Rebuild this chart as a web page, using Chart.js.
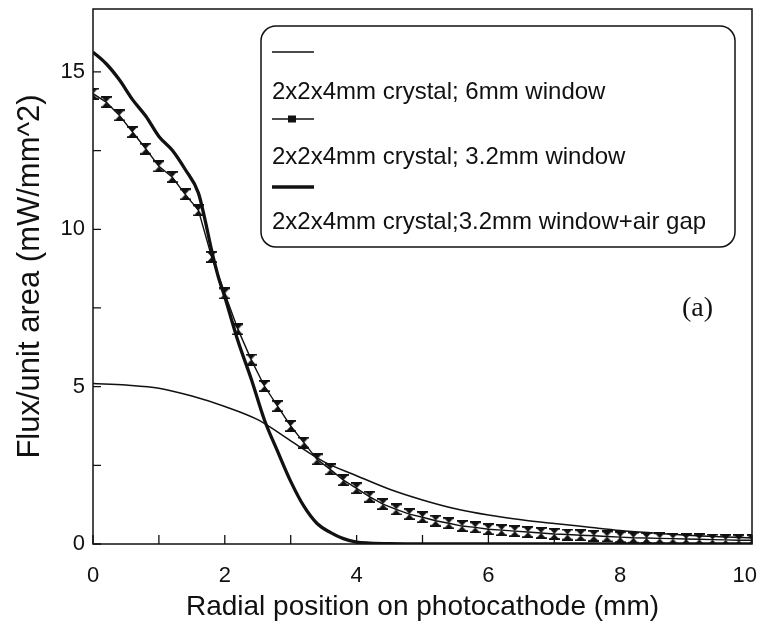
<!DOCTYPE html>
<html><head><meta charset="utf-8">
<script src="https://cdn.jsdelivr.net/npm/chart.js@4/dist/chart.umd.min.js"></script>
<style>html,body{margin:0;padding:0;background:#fff;}canvas{display:block;}</style>
</head><body>
<canvas id="c" width="762" height="632"></canvas>
<script>
const SANS = "'Liberation Sans', Arial, Helvetica, sans-serif";
const SERIF = "'Liberation Serif', 'Times New Roman', serif";

const seriesLabels = [
  '2x2x4mm crystal; 6mm window',
  '2x2x4mm crystal; 3.2mm window',
  '2x2x4mm crystal;3.2mm window+air gap'
];
const xTitle = 'Radial position on photocathode (mm)';
const yTitle = 'Flux/unit area (mW/mm^2)';
const panelLabel = '(a)';
const xTickLabels = [0, 2, 4, 6, 8, 10];
const yTickLabels = [0, 5, 10, 15];

// 6mm window (thin line)
const xThin = [0, 0.5, 1.0, 1.5, 2.0, 2.5, 3.0, 3.5, 4.0, 4.5, 5.0, 5.5, 6.0, 6.5, 7.0, 7.5, 8.0, 8.5, 9.0, 9.5, 10];
const yThin = [5.1, 5.05, 4.95, 4.7, 4.37, 3.95, 3.28, 2.62, 2.17, 1.74, 1.4, 1.12, 0.92, 0.77, 0.65, 0.54, 0.43, 0.35, 0.28, 0.23, 0.19];

// 3.2mm window (line with markers)
const xWin = [0, 0.2, 0.4, 0.6, 0.8, 1.0, 1.2, 1.4, 1.6, 1.8, 2.0, 2.2, 2.4, 2.6, 2.8, 3.0, 3.2, 3.4, 3.6, 3.8,
  4.0, 4.2, 4.4, 4.6, 4.8, 5.0, 5.2, 5.4, 5.6, 5.8, 6.0, 6.2, 6.4, 6.6, 6.8, 7.0, 7.2, 7.4, 7.6, 7.8,
  8.0, 8.2, 8.4, 8.6, 8.8, 9.0, 9.2, 9.4, 9.6, 9.8, 10];
const yWin = [14.31, 14.04, 13.62, 13.09, 12.56, 12.0, 11.66, 11.11, 10.6, 9.12, 7.96, 6.82, 5.86, 5.02, 4.38, 3.75, 3.22, 2.69, 2.37, 2.03,
  1.77, 1.5, 1.27, 1.1, 0.95, 0.85, 0.74, 0.66, 0.57, 0.53, 0.47, 0.44, 0.41, 0.38, 0.35, 0.32, 0.30, 0.28, 0.26, 0.24,
  0.22, 0.20, 0.19, 0.18, 0.17, 0.16, 0.15, 0.14, 0.13, 0.12, 0.12];

// 3.2mm window + air gap (thick line)
const xGap = [0, 0.2, 0.4, 0.6, 0.8, 1.0, 1.2, 1.4, 1.6, 1.7, 1.8, 1.9, 2.0, 2.2, 2.4, 2.6, 2.8, 3.0, 3.2, 3.4, 3.6, 3.8, 4.0, 4.2, 4.5, 5, 6, 7, 8, 9, 10];
const yGap = [15.63, 15.26, 14.75, 14.12, 13.6, 12.95, 12.52, 11.9, 11.15, 10.3, 9.33, 8.5, 7.85, 6.45, 5.25, 3.95, 2.95, 1.99, 1.2, 0.65, 0.37, 0.17, 0.06, 0.03, 0.01, 0, 0, 0, 0, 0, 0];

const pts = (xs, ys) => xs.map((x, i) => ({x: x, y: ys[i]}));

// hourglass marker
const mk = document.createElement('canvas');
mk.width = 11; mk.height = 12;
(function () {
  const g = mk.getContext('2d');
  g.fillStyle = '#111';
  g.beginPath();
  g.moveTo(0.5, 0.5); g.lineTo(10.5, 0.5); g.lineTo(5.5, 6); g.closePath(); g.fill();
  g.beginPath();
  g.moveTo(0.5, 11.5); g.lineTo(10.5, 11.5); g.lineTo(5.5, 6); g.closePath(); g.fill();
  g.strokeStyle = '#111'; g.lineWidth = 1.6;
  g.beginPath(); g.moveTo(0, 0.9); g.lineTo(11, 0.9); g.moveTo(0, 11.1); g.lineTo(11, 11.1); g.stroke();
})();

const decor = {
  id: 'decor',
  beforeDatasetsDraw(chart) {
    const {ctx, chartArea: a, scales: {x, y}} = chart;
    ctx.save();
    ctx.strokeStyle = '#111';
    ctx.lineWidth = 1.5;
    ctx.strokeRect(a.left, a.top, a.right - a.left, a.bottom - a.top);
    ctx.lineWidth = 1.3;
    ctx.beginPath();
    x.ticks.forEach(t => {
      const px = x.getPixelForValue(t.value);
      ctx.moveTo(px, a.bottom); ctx.lineTo(px, a.bottom - 9);
    });
    y.ticks.forEach(t => {
      const py = y.getPixelForValue(t.value);
      ctx.moveTo(a.left, py); ctx.lineTo(a.left + 8, py);
    });
    ctx.stroke();
    // x tick labels (last one kept inside the canvas)
    ctx.fillStyle = '#111';
    ctx.font = '22px ' + SANS;
    ctx.textAlign = 'center'; ctx.textBaseline = 'middle';
    xTickLabels.forEach(v => {
      const s = String(v);
      const w = ctx.measureText(s).width;
      let px = x.getPixelForValue(v);
      px = Math.min(px, chart.width - 5 - w / 2);
      ctx.fillText(s, px, a.bottom + 32);
    });
    ctx.restore();
  },
  afterDraw(chart) {
    const {ctx} = chart;
    const ds = chart.data.datasets;
    ctx.save();
    // legend box
    const bx = 261, by = 26, bw = 474, bh = 221, r = 15;
    ctx.beginPath();
    ctx.moveTo(bx + r, by);
    ctx.arcTo(bx + bw, by, bx + bw, by + bh, r);
    ctx.arcTo(bx + bw, by + bh, bx, by + bh, r);
    ctx.arcTo(bx, by + bh, bx, by, r);
    ctx.arcTo(bx, by, bx + bw, by, r);
    ctx.closePath();
    ctx.fillStyle = '#fff'; ctx.fill();
    ctx.strokeStyle = '#111'; ctx.lineWidth = 1.5; ctx.stroke();

    const sx0 = 272, sx1 = 314;
    const sampleY = [52, 119, 187];
    const textY = [92, 157, 222];
    ds.forEach((d, i) => {
      ctx.strokeStyle = '#111';
      ctx.lineWidth = d.borderWidth;
      ctx.beginPath(); ctx.moveTo(sx0, sampleY[i]); ctx.lineTo(sx1, sampleY[i]); ctx.stroke();
      if (i === 1) {
        ctx.fillStyle = '#111';
        ctx.fillRect(288, sampleY[i] - 3.5, 8, 7);
      }
      ctx.fillStyle = '#111';
      ctx.font = '24px ' + SANS;
      ctx.textAlign = 'left'; ctx.textBaseline = 'middle';
      ctx.fillText(d.label, 272, textY[i]);
    });
    // panel label
    ctx.font = '28px ' + SERIF;
    ctx.textBaseline = 'alphabetic';
    ctx.fillText(panelLabel, 682, 316);
    ctx.restore();
  }
};

new Chart(document.getElementById('c'), {
  type: 'line',
  data: {
    datasets: [
      {label: seriesLabels[0], data: pts(xThin, yThin), borderColor: '#111', borderWidth: 1.5, pointRadius: 0, cubicInterpolationMode: 'monotone', fill: false},
      {label: seriesLabels[1], data: pts(xWin, yWin), borderColor: '#111', borderWidth: 1.4, pointStyle: mk, pointRadius: 5, tension: 0, fill: false},
      {label: seriesLabels[2], data: pts(xGap, yGap), borderColor: '#111', borderWidth: 3.3, pointRadius: 0, cubicInterpolationMode: 'monotone', fill: false}
    ]
  },
  options: {
    responsive: false, animation: false, devicePixelRatio: 1,
    layout: {padding: {left: 0, right: 10, top: 9, bottom: 0}},
    plugins: {legend: {display: false}, tooltip: {enabled: false}},
    scales: {
      x: {
        type: 'linear', min: 0, max: 10,
        afterBuildTicks(s) { s.ticks = xWin.filter(v => Number.isInteger(v)).map(v => ({value: v})); },
        ticks: {display: false},
        grid: {display: false, drawTicks: false},
        border: {display: false},
        title: {display: true, text: xTitle, color: '#111', font: {family: SANS, size: 28}, padding: {top: 0, bottom: 8}},
        afterFit(s) { s.height = 88; s.paddingLeft = 0; s.paddingRight = 0; }
      },
      y: {
        type: 'linear', min: 0, max: 17,
        afterBuildTicks(s) { s.ticks = [0, 2.5, 5, 7.5, 10, 12.5, 15].map(v => ({value: v})); },
        ticks: {autoSkip: false, color: '#111', font: {family: SANS, size: 22}, padding: 8,
          callback: v => yTickLabels.includes(v) ? String(v) : ''},
        grid: {display: false, drawTicks: false},
        border: {display: false},
        title: {display: true, text: yTitle, color: '#111', font: {family: SANS, size: 31}, padding: {top: 12, bottom: 0}},
        afterFit(s) { s.width = 93; s.paddingTop = 0; s.paddingBottom = 0; }
      }
    }
  },
  plugins: [decor]
});
</script>
</body></html>
